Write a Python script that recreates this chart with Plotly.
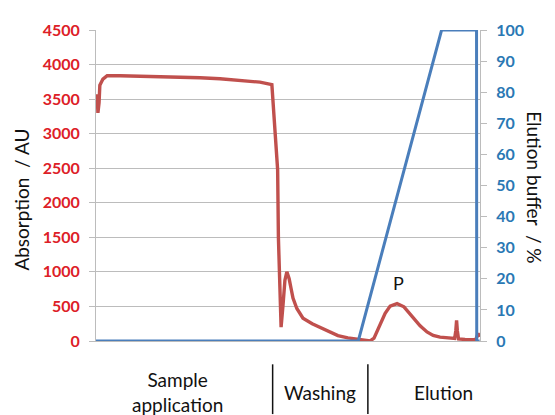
import plotly.graph_objects as go

# Absorption trace (time in min, absorption in AU)
abs_time = [0.3, 0.5, 0.8, 1.0, 1.8, 2.9, 6.3, 11.5, 16.7, 21.9, 27.1, 32.3, 37.5, 42.7, 45.8,
            46.6, 47.1, 47.3, 47.5, 47.9, 48.2, 48.7, 49.2, 49.7, 50.3, 50.8, 51.3, 52.3, 53.9,
            56.3, 58.9, 60.9, 63.0, 65.6, 68.2, 70.1, 71.4, 72.4, 74.0, 75.3, 76.6, 78.4, 80.2,
            82.6, 84.4, 86.2, 87.8, 89.6, 92.2, 93.4, 93.7, 93.9, 94.1, 94.4, 96.1, 98.9, 99.5, 99.9]
abs_values = [3570, 3300, 3450, 3700, 3790, 3840, 3838, 3832, 3826, 3818, 3810, 3795, 3775, 3745, 3710,
              3050, 2520, 2480, 1500, 600, 200, 520, 880, 1000, 900, 760, 620, 470, 330,
              250, 183, 125, 78, 45, 28, 10, 2, 40, 225, 400, 505, 540, 495,
              343, 220, 131, 80, 56, 40, 36, 150, 300, 150, 30, 22, 20, 110, 60]

# Elution buffer gradient (time in min, %)
buf_time = [0, 68.3, 90.0, 99.1, 99.15, 99.9]
buf_values = [0, 0, 100, 100, 0, 0]

phases = ["Sample<br>application", "Washing", "Elution"]
phase_centers = [0.211, 0.583, 0.906]
phase_separators = [0.460, 0.708]

RED_LINE = "#c0504d"
BLUE_LINE = "#4a7ebb"
RED_TEXT = "#dd2027"
BLUE_TEXT = "#2a78b4"
GRID = "#bcbcbc"
FONT = "Lato"

fig = go.Figure()
fig.add_trace(go.Scatter(x=abs_time, y=abs_values, mode="lines",
                         line=dict(color=RED_LINE, width=3.4), yaxis="y", showlegend=False))
fig.add_trace(go.Scatter(x=buf_time, y=buf_values, mode="lines",
                         line=dict(color=BLUE_LINE, width=3), yaxis="y2", showlegend=False))

annotations = []
for label, cx in zip(phases, phase_centers):
    annotations.append(dict(text=label, x=cx, y=-0.165, xref="paper", yref="paper",
                            showarrow=False, xanchor="center", yanchor="middle",
                            font=dict(family=FONT, size=19, color="#111111")))
annotations.append(dict(text="P", x=78.9, y=840, xref="x", yref="y", showarrow=False,
                        font=dict(family=FONT, size=18, color="#111111")))
annotations.append(dict(text="Absorption\u00a0 / AU", x=-0.195, y=0.455, xref="paper", yref="paper",
                        textangle=-90, showarrow=False, xanchor="center", yanchor="middle",
                        font=dict(family=FONT, size=19, color="#111111")))
annotations.append(dict(text="Elution buffer\u00a0 / %", x=1.143, y=0.495, xref="paper", yref="paper",
                        textangle=90, showarrow=False, xanchor="center", yanchor="middle",
                        font=dict(family=FONT, size=19, color="#111111")))

shapes = [dict(type="line", xref="paper", yref="paper", x0=sx, x1=sx, y0=-0.075, y1=-0.235,
               line=dict(color="#111111", width=1.5)) for sx in phase_separators]

fig.update_layout(
    width=555, height=415,
    margin=dict(l=88, r=83, t=14, b=82),
    paper_bgcolor="white", plot_bgcolor="white",
    xaxis=dict(range=[0, 100], showticklabels=False, ticks="", showgrid=False,
               zeroline=False, showline=True, linecolor=GRID, linewidth=1),
    yaxis=dict(range=[0, 4500], dtick=500, tick0=0, showgrid=True, gridcolor=GRID, gridwidth=1,
               zeroline=False, showline=True, linecolor=GRID, linewidth=1,
               ticks="outside", ticklen=6, tickcolor=GRID, ticklabelstandoff=6,
               tickfont=dict(family=FONT, size=16, color=RED_TEXT, weight="bold")),
    yaxis2=dict(range=[0, 100], dtick=10, tick0=0, overlaying="y", side="right",
                showgrid=False, zeroline=False, showline=True, linecolor=GRID, linewidth=1,
                ticks="outside", ticklen=6, tickcolor=GRID, ticklabelstandoff=6,
                tickfont=dict(family=FONT, size=16, color=BLUE_TEXT, weight="bold")),
    annotations=annotations,
    shapes=shapes,
)

fig.write_html("out.html")
